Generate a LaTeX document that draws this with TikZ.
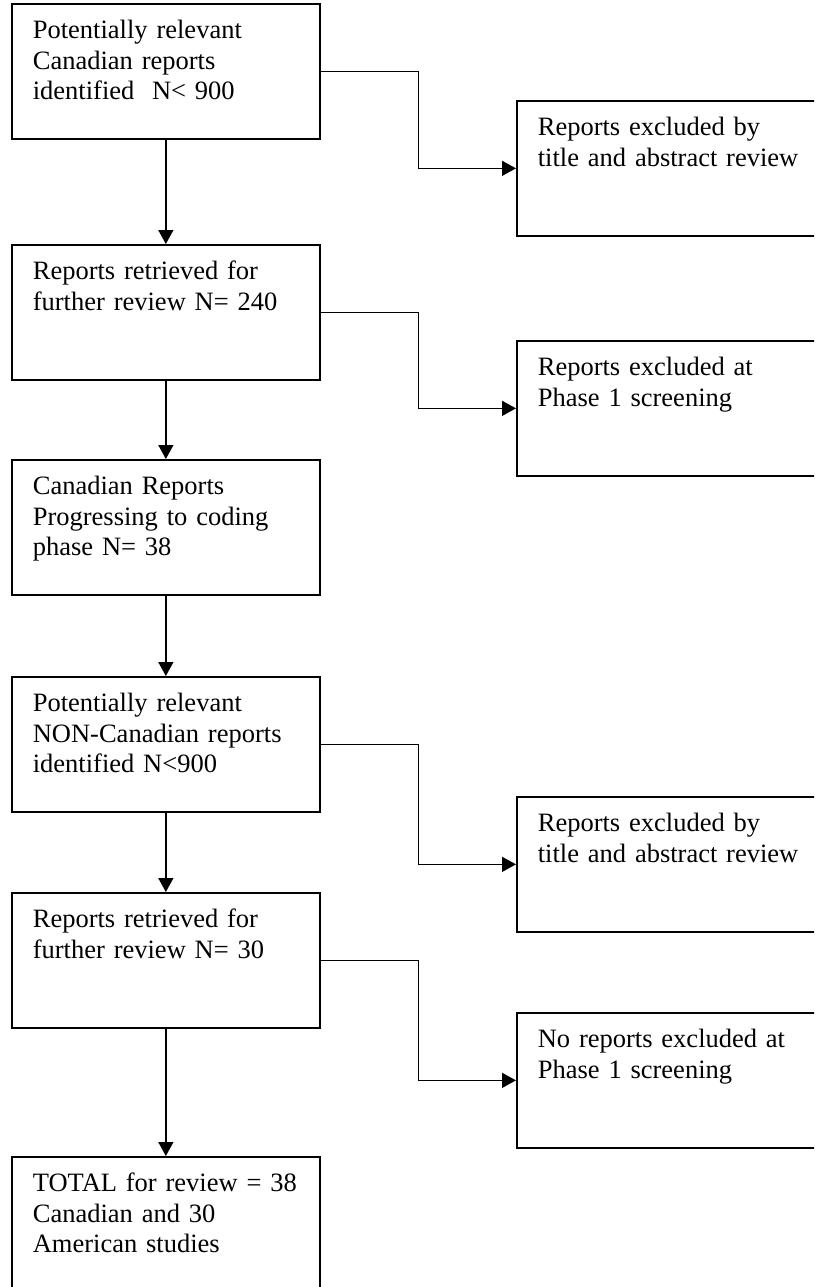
\documentclass[tikz,border=0pt]{standalone}
\usepackage{fontspec}
\setmainfont{Liberation Serif}
\usetikzlibrary{arrows.meta}

\begin{document}
\begin{tikzpicture}[x=1pt, y=-1pt,
    box/.style={rectangle, draw, line width=1.7pt, anchor=north west, align=left,
      inner xsep=21pt, inner ysep=16pt, text height=19pt, text depth=84pt,
      font=\fontsize{26.5}{30.5}\selectfont},
    leftbox/.style={box, text width=266pt},
    rightbox/.style={box, text width=288pt},
    arr/.style={line width=1.4pt, -{Triangle[length=14pt, width=15pt]}}]
  \useasboundingbox (0,0) rectangle (814,1287);
  \clip (0,0) rectangle (814,1287);
  % left column
  \node [leftbox] (canid) at (11,3) {Potentially relevant\\Canadian reports\\identified\ \ N< 900};
  \node [leftbox] (canret) at (11,244) {Reports retrieved for\\further review N= 240};
  \node [leftbox] (cancode) at (11,459) {Canadian Reports\\Progressing to coding\\phase N= 38};
  \node [leftbox] (nonid) at (11,676) {Potentially relevant\\NON-Canadian reports\\identified N<900};
  \node [leftbox] (nonret) at (11,892) {Reports retrieved for\\further review N= 30};
  \node [leftbox] (total) at (11,1156) {TOTAL for review = 38\\Canadian and 30\\American studies};
  % right column
  \node [rightbox] (canexa) at (516,100) {Reports excluded by\\title and abstract review};
  \node [rightbox] (canexb) at (516,340) {Reports excluded at\\Phase 1 screening};
  \node [rightbox] (nonexa) at (516,796) {Reports excluded by\\title and abstract review};
  \node [rightbox] (nonexb) at (516,1012) {No reports excluded at\\Phase 1 screening};
  % connectors
  \draw [arr] (canid) -- (canret);
  \draw [arr] (canret) -- (cancode);
  \draw [arr] (cancode) -- (nonid);
  \draw [arr] (nonid) -- (nonret);
  \draw [arr] (nonret) -- (total);
  \draw [arr] (canid.east) -- ++(98,0) |- (canexa.west);
  \draw [arr] (canret.east) -- ++(98,0) |- (canexb.west);
  \draw [arr] (nonid.east) -- ++(98,0) |- (nonexa.west);
  \draw [arr] (nonret.east) -- ++(98,0) |- (nonexb.west);
\end{tikzpicture}
\end{document}
